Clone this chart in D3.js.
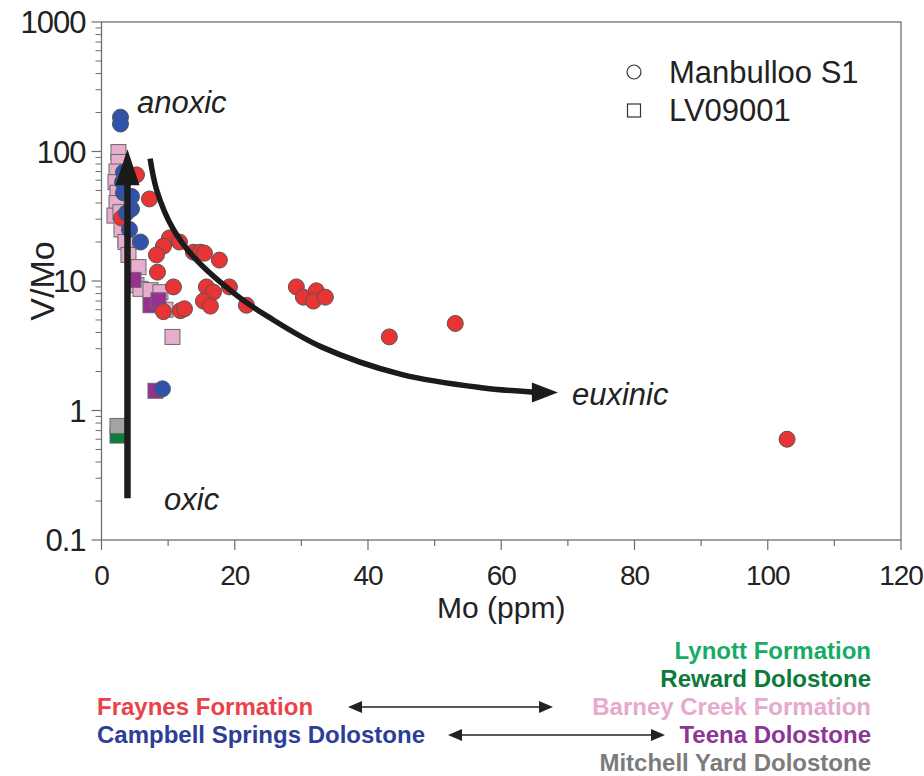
<!DOCTYPE html>
<html>
<head>
  <style>
    body{ margin:0; background:#fff; font-family:"Liberation Sans", Arial, sans-serif; }
    .tick-label{ font-size:28px; fill:#222; letter-spacing:-1px; }
    .ytick-label{ font-size:31px; fill:#222; letter-spacing:-1px; }
    .axis-title{ font-size:30px; fill:#222; }
    .note{ font-size:31px; font-style:italic; fill:#222; }
    .legend-text{ font-size:31px; fill:#222; }
    .unit{ font-size:24px; font-weight:bold; }
  </style>
  <script src="https://d3js.org/d3.v7.min.js"></script>
</head>
<body>
<div id="chart"></div>
<script>
// [Mo (ppm), V/Mo]
const fraynes = [
  [5.25,66],[7.2,43],[3.0,30.6],[10.2,21.5],[11.7,20],[9.3,18.6],[8.25,15.9],
  [13.8,16.7],[14.85,16.7],[15.45,16.4],[17.7,14.5],[8.4,11.7],[10.8,9.0],
  [15.75,9.0],[16.8,8.2],[19.2,9.0],[15.3,7.0],[16.35,6.4],[21.75,6.5],
  [9.3,5.8],[11.85,5.9],[12.45,6.1],[29.25,9.0],[30.3,7.5],[32.25,8.4],
  [31.8,7.0],[33.6,7.5],[43.2,3.7],[53.1,4.7],[102.9,0.6]
];
const campbellSprings = [
  [2.85,184],[2.85,163],[3.3,69],[3.15,58],[3.3,48],[4.5,45],[4.5,36],
  [3.75,33.5],[4.2,25],[5.85,20],[9.15,1.47]
];
const barneyCreek = [
  [2.55,99],[2.55,83],[2.25,70],[2.1,58],[2.4,48],[2.25,40],[1.95,32],
  [2.85,34],[3.0,25],[3.6,20],[4.05,15.9],[5.55,12.8],[5.25,9.3],[5.85,8.7],
  [7.35,8.5],[8.85,8.2],[9.6,6.0],[10.65,3.7]
];
const teena = [[4.8,10.2],[7.35,6.5],[8.55,7.1],[8.1,1.42]];
const reward = [[3.6,21],[2.4,0.64]];
const mitchellYard = [[2.4,0.76]];

// annotation arrows, in data units
const oxicArrow = [[3.9,0.21],[3.9,104]];
const euxinicArrow = [
  [7.3,88],[8.3,50],[10.7,25.5],[14,15],[20.5,7.6],[25,5.3],[33,3.1],
  [45,1.9],[57,1.5],[68.5,1.38]
];

const xTicks = [0,20,40,60,80,100,120];
const yTicks = [0.1,1,10,100,1000];

const width = 924, height = 776;
const margin = {left:101.5, right:23, top:22, bottom:236};

const svg = d3.select('#chart').append('svg')
  .attr('width', width).attr('height', height);

const x = d3.scaleLinear().domain([0,120]).range([margin.left, width - margin.right]);
const y = d3.scaleLog().domain([0.1,1000]).range([height - margin.bottom, margin.top]);

const axisColor = '#6f6f6f';

// frame
svg.append('rect')
  .attr('x', x(0)).attr('y', y(1000))
  .attr('width', x(120) - x(0)).attr('height', y(0.1) - y(1000))
  .attr('fill', 'none').attr('stroke', axisColor).attr('stroke-width', 1.3);

// x ticks
const xg = svg.append('g');
d3.range(0, 121, 10).forEach(v => {
  const major = v % 20 === 0;
  xg.append('line')
    .attr('x1', x(v)).attr('x2', x(v))
    .attr('y1', y(0.1)).attr('y2', y(0.1) + (major ? 10 : 6))
    .attr('stroke', axisColor).attr('stroke-width', 1.2);
});
xg.selectAll('text').data(xTicks).join('text')
  .attr('class', 'tick-label')
  .attr('x', d => x(d)).attr('y', y(0.1) + 45)
  .attr('text-anchor', 'middle')
  .text(d => d);

// y ticks (log, with minors)
const yg = svg.append('g');
yTicks.forEach((t, i) => {
  yg.append('line')
    .attr('x1', x(0) - 10).attr('x2', x(0))
    .attr('y1', y(t)).attr('y2', y(t))
    .attr('stroke', axisColor).attr('stroke-width', 1.2);
  if (i < yTicks.length - 1) {
    d3.range(2, 10).forEach(m => {
      yg.append('line')
        .attr('x1', x(0) - 6).attr('x2', x(0))
        .attr('y1', y(t * m)).attr('y2', y(t * m))
        .attr('stroke', axisColor).attr('stroke-width', 1);
    });
  }
});
yg.selectAll('text').data(yTicks).join('text')
  .attr('class', 'ytick-label')
  .attr('x', x(0) - 16).attr('y', d => y(d) + 11)
  .attr('text-anchor', 'end')
  .text(d => d);

svg.append('text').attr('class', 'axis-title')
  .attr('x', (x(0) + x(120)) / 2).attr('y', y(0.1) + 78)
  .attr('text-anchor', 'middle').text('Mo (ppm)');
svg.append('text').attr('class', 'axis-title')
  .style('font-size', '34px')
  .attr('transform', `translate(54,${(y(0.1) + y(1000)) / 2}) rotate(-90)`)
  .attr('text-anchor', 'middle').text('V/Mo');

// markers: squares (LV09001) then circles (Manbulloo S1)
const plot = svg.append('g');
const sq = 15, rad = 8;
function squares(data, fill) {
  plot.append('g').selectAll('rect').data(data).join('rect')
    .attr('x', d => x(d[0]) - sq / 2).attr('y', d => y(d[1]) - sq / 2)
    .attr('width', sq).attr('height', sq)
    .attr('fill', fill).attr('stroke', '#6a6a6a').attr('stroke-width', 1);
}
function circles(data, fill) {
  plot.append('g').selectAll('circle').data(data).join('circle')
    .attr('cx', d => x(d[0])).attr('cy', d => y(d[1])).attr('r', rad)
    .attr('fill', fill).attr('stroke', '#555').attr('stroke-width', 1);
}
squares(reward, '#0c7c3c');
squares(barneyCreek, '#e7aed0');
squares(teena, '#9a2f92');
squares(mitchellYard, '#a3a3a5');
circles(fraynes, '#e93436');
circles(campbellSprings, '#2f52ac');

// arrows
const arrowColor = '#1b1b1b';
function head(tipX, tipY, angle, len, halfW) {
  const ca = Math.cos(angle), sa = Math.sin(angle);
  const bx = tipX - len * ca, by = tipY - len * sa;
  return [[tipX, tipY], [bx - halfW * sa, by + halfW * ca], [bx + halfW * sa, by - halfW * ca]];
}
const ox = oxicArrow.map(d => [x(d[0]), y(d[1])]);
svg.append('line')
  .attr('x1', ox[0][0]).attr('y1', ox[0][1])
  .attr('x2', ox[1][0]).attr('y2', ox[1][1] + 30)
  .attr('stroke', arrowColor).attr('stroke-width', 6.5);
svg.append('polygon')
  .attr('points', head(ox[1][0], ox[1][1], -Math.PI / 2, 36, 12).join(' '))
  .attr('fill', arrowColor);

const eu = euxinicArrow.map(d => [x(d[0]), y(d[1])]);
const last = eu[eu.length - 1];
const lineEnd = eu.slice(0, -1).concat([[last[0] - 20, last[1]]]);
svg.append('path')
  .attr('d', d3.line().curve(d3.curveCatmullRom.alpha(0.5))(lineEnd))
  .attr('fill', 'none').attr('stroke', arrowColor).attr('stroke-width', 5.5);
svg.append('polygon')
  .attr('points', head(last[0], last[1], 0, 26, 10).join(' '))
  .attr('fill', arrowColor);

// annotations
svg.append('text').attr('class', 'note').attr('x', 137).attr('y', 113).text('anoxic');
svg.append('text').attr('class', 'note').attr('x', 164).attr('y', 510).text('oxic');
svg.append('text').attr('class', 'note').attr('x', 572).attr('y', 405).text('euxinic');

// legend
svg.append('circle').attr('cx', 634).attr('cy', 72).attr('r', 7)
  .attr('fill', 'none').attr('stroke', '#333').attr('stroke-width', 1.2);
svg.append('rect').attr('x', 627.5).attr('y', 104).attr('width', 13).attr('height', 13)
  .attr('fill', 'none').attr('stroke', '#333').attr('stroke-width', 1.2);
svg.append('text').attr('class', 'legend-text').attr('x', 669).attr('y', 83).text('Manbulloo S1');
svg.append('text').attr('class', 'legend-text').attr('x', 669).attr('y', 121).text('LV09001');

// stratigraphic units
const rightUnits = ['Lynott Formation','Reward Dolostone','Barney Creek Formation','Teena Dolostone','Mitchell Yard Dolostone'];
const rightColors = ['#16ac67','#0b7a3a','#e7a9cd','#8b3597','#7b7b7b'];
const leftUnits = ['Fraynes Formation','Campbell Springs Dolostone'];
const leftColors = ['#ea4249','#2c3e96'];
const lineGap = 28, firstBase = 659;

svg.append('g').selectAll('text').data(rightUnits).join('text')
  .attr('class', 'unit')
  .attr('x', 871).attr('y', (d, i) => firstBase + i * lineGap)
  .attr('text-anchor', 'end')
  .attr('fill', (d, i) => rightColors[i])
  .text(d => d);
svg.append('g').selectAll('text').data(leftUnits).join('text')
  .attr('class', 'unit')
  .attr('x', 97).attr('y', (d, i) => firstBase + (i + 2) * lineGap)
  .attr('fill', (d, i) => leftColors[i])
  .text(d => d);

// correlation double arrows
const corr = [[348, 553, 2], [448, 665, 3]];
corr.forEach(([a, b, row]) => {
  const yy = firstBase + row * lineGap - 8;
  svg.append('line').attr('x1', a + 10).attr('x2', b - 10).attr('y1', yy).attr('y2', yy)
    .attr('stroke', '#222').attr('stroke-width', 1.5);
  svg.append('polygon').attr('points', head(b, yy, 0, 14, 6).join(' ')).attr('fill', '#222');
  svg.append('polygon').attr('points', head(a, yy, Math.PI, 14, 6).join(' ')).attr('fill', '#222');
});
</script>
</body>
</html>
